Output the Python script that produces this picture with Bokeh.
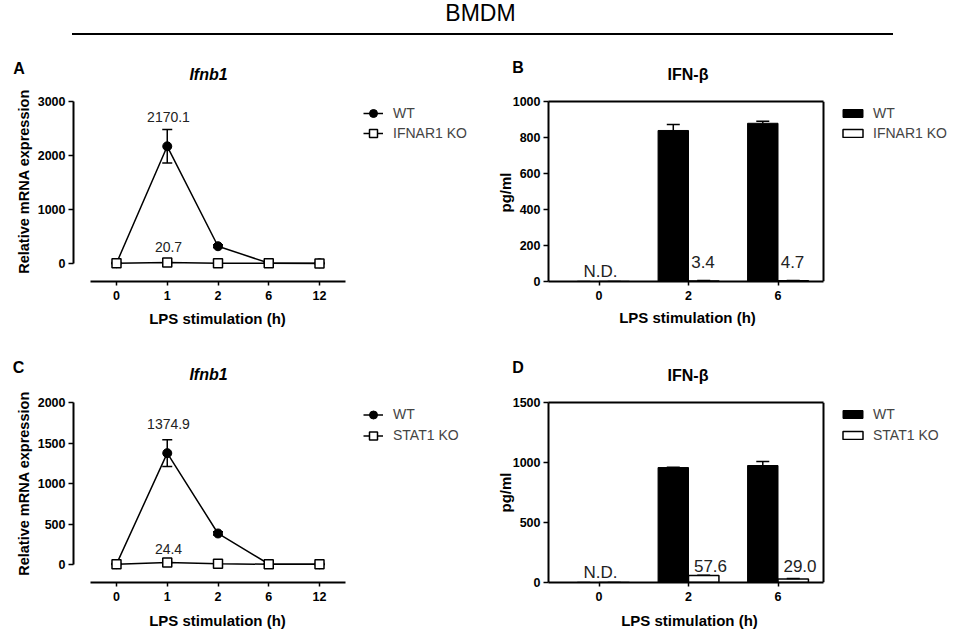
import numpy as np
from bokeh.plotting import figure
from bokeh.models import (ColumnDataSource, Whisker, TeeHead, Label, Legend,
                          LegendItem, Div, Range1d, FixedTicker, Span, LinearAxis)
from bokeh.layouts import column, row
from bokeh.embed import file_html
from bokeh.resources import INLINE

FONT = "Liberation Sans"

# ---------------- data ----------------
header_title = "BMDM"
qpcr_hours = ["0", "1", "2", "6", "12"]
elisa_hours = ["0", "2", "6"]

a_wt = [6.0, 2170.1, 320.0, 8.0, 4.0]
a_wt_err = [3.0, 310.0, 25.0, 3.0, 2.0]
a_ko = [4.0, 20.7, 6.0, 3.0, 2.0]
a_ko_err = [2.0, 6.0, 2.0, 1.0, 1.0]
a_series = ["WT", "IFNAR1 KO"]

c_wt = [5.0, 1374.9, 383.0, 6.0, 3.0]
c_wt_err = [3.0, 165.0, 20.0, 2.0, 1.0]
c_ko = [4.0, 24.4, 9.0, 3.0, 2.0]
c_ko_err = [2.0, 5.0, 2.0, 1.0, 1.0]
c_series = ["WT", "STAT1 KO"]

b_wt = [0.0, 839.0, 879.0]
b_wt_err = [0.0, 33.0, 11.0]
b_ko = [0.0, 3.4, 4.7]
b_ko_err = [0.0, 2.0, 1.5]
b_series = ["WT", "IFNAR1 KO"]

d_wt = [0.0, 958.0, 975.0]
d_wt_err = [0.0, 3.0, 33.0]
d_ko = [0.0, 57.6, 29.0]
d_ko_err = [0.0, 3.0, 4.0]
d_series = ["WT", "STAT1 KO"]

qpcr_ticks = [0, 1000, 2000, 3000]
qpcr_ticks_c = [0, 500, 1000, 1500, 2000]
elisa_ticks_b = [0, 200, 400, 600, 800, 1000]
elisa_ticks_d = [0, 500, 1000, 1500]


class Geom:
    """Panel geometry in page pixels: figure origin/size, frame box, axis mapping."""
    def __init__(self, ox, oy, w, h, L, R, T, B, x0, xp, y0, yp, axL, axR):
        self.__dict__.update(dict(ox=ox, oy=oy, w=w, h=h, L=L, R=R, T=T, B=B,
                                  x0=x0, xp=xp, y0=y0, yp=yp, axL=axL, axR=axR))

    def xr(self):
        return Range1d(self.dx(self.L), self.dx(self.R))

    def yr(self):
        return Range1d(self.dy(self.B), self.dy(self.T))

    def dx(self, sx):
        return (sx - self.x0) / self.xp

    def dy(self, sy):
        return (self.y0 - sy) / self.yp


def base_fig(g, yticks, ymax):
    p = figure(width=g.w, height=g.h, x_range=g.xr(), y_range=g.yr(),
               min_border_left=g.L - g.ox, min_border_right=g.ox + g.w - g.R,
               min_border_top=g.T - g.oy, min_border_bottom=g.oy + g.h - g.B,
               output_backend="svg", toolbar_location=None, title=None)
    p.xgrid.visible = False
    p.ygrid.visible = False
    p.background_fill_color = "white"
    p.border_fill_color = "white"
    p.outline_line_color = None
    for ax in (p.xaxis[0], p.yaxis[0]):
        ax.axis_line_width = 2
        ax.axis_line_color = "black"
        ax.major_tick_line_width = 1.5
        ax.major_tick_in = 0
        ax.minor_tick_line_color = None
        ax.major_label_text_font = FONT
        ax.major_label_text_font_style = "bold"
        ax.major_label_text_font_size = "12.5px"
        ax.major_label_text_color = "black"
    p.yaxis[0].ticker = FixedTicker(ticks=yticks)
    p.yaxis[0].bounds = (0, ymax)
    p.yaxis[0].major_tick_out = 5
    p.yaxis[0].major_label_standoff = 3
    p.xaxis[0].bounds = (g.dx(g.axL), g.dx(g.axR))
    p.xaxis[0].major_tick_out = 4
    p.xaxis[0].major_label_standoff = 5
    return p


def add_text(p, g, text, sx, sy, size, style="normal", color="black", side="above",
             angle=0.0):
    lab = Label(x=g.dx(sx), y=g.dy(sy), text=text, text_font=FONT,
                text_font_size=size, text_font_style=style, angle=angle,
                text_color=color, text_align="center", text_baseline="middle")
    if side == "center":
        p.add_layout(lab)
    else:
        p.add_layout(lab, side)


def add_legend(p, g, items, glyph_left, first_center, pitch, glyph_w, glyph_h, standoff):
    leg = Legend(items=items,
                 location=(glyph_left - g.L, g.B - (first_center - pitch / 2 + 2 * pitch)),
                 padding=0, margin=0, spacing=0, glyph_width=glyph_w, glyph_height=glyph_h,
                 label_height=pitch, label_standoff=standoff,
                 label_text_font=FONT, label_text_font_size="14px",
                 border_line_color=None, background_fill_alpha=0)
    p.add_layout(leg)


def line_panel(g, wt, wt_err, ko, ko_err, series, yticks, ymax, letter,
               letter_xy, title_xy, ytitle_xy, xtitle_xy, lab1_xy, lab2_xy,
               leg_top, leg_pitch):
    p = base_fig(g, yticks, ymax)
    x = np.arange(len(qpcr_hours))
    p.xaxis[0].ticker = FixedTicker(ticks=list(x))
    p.xaxis[0].major_label_overrides = {int(i): h for i, h in zip(x, qpcr_hours)}

    wt_src = ColumnDataSource(dict(x=x, y=wt, lo=np.array(wt) - np.array(wt_err),
                                   hi=np.array(wt) + np.array(wt_err)))
    ko_src = ColumnDataSource(dict(x=x, y=ko, lo=np.array(ko) - np.array(ko_err),
                                   hi=np.array(ko) + np.array(ko_err)))
    for src in (wt_src, ko_src):
        p.add_layout(Whisker(source=src, base="x", lower="lo", upper="hi",
                             line_width=1.5, line_color="black",
                             upper_head=TeeHead(size=10, line_width=1.5),
                             lower_head=TeeHead(size=10, line_width=1.5)))
    l1 = p.line("x", "y", source=wt_src, line_width=1.5, line_color="black")
    m1 = p.scatter("x", "y", source=wt_src, marker="circle", size=9,
                   fill_color="black", line_color="black")
    l2 = p.line("x", "y", source=ko_src, line_width=1.5, line_color="black")
    m2 = p.scatter("x", "y", source=ko_src, marker="square", size=9,
                   fill_color="white", line_color="black", line_width=1.5)

    add_legend(p, g, [LegendItem(label=series[0], renderers=[l1, m1]),
                      LegendItem(label=series[1], renderers=[l2, m2])],
               363, leg_top, leg_pitch, 20, leg_pitch, 10)

    add_text(p, g, letter, *letter_xy, "16px", "bold")
    add_text(p, g, "Ifnb1", *title_xy, "16px", "bold italic")
    add_text(p, g, "Relative mRNA expression", *ytitle_xy, "14.5px", "bold",
             side="left", angle=np.pi / 2)
    add_text(p, g, "LPS stimulation (h)", *xtitle_xy, "15px", "bold", side="below")
    add_text(p, g, f"{wt[1]:.1f}", *lab1_xy, "14px", color="#222222", side="center")
    add_text(p, g, f"{ko[1]:.1f}", *lab2_xy, "14px", color="#222222", side="center")
    return p


def bar_panel(g, wt, wt_err, ko, ko_err, series, yticks, ymax, letter, letter_xy,
              title_xy, ytitle_xy, xtitle_xy, nd_xy, lab_xy, leg_top, leg_pitch):
    p = base_fig(g, yticks, ymax)
    x = np.arange(len(elisa_hours))
    p.xaxis[0].ticker = FixedTicker(ticks=list(x))
    p.xaxis[0].major_label_overrides = {int(i): h for i, h in zip(x, elisa_hours)}
    # plot box: top edge as a bare axis line, right edge as a vertical span
    top_axis = LinearAxis(bounds=(g.dx(g.axL), g.dx(g.axR)), ticker=FixedTicker(ticks=[]),
                          axis_line_width=2, axis_line_color="black",
                          major_tick_line_color=None, minor_tick_line_color=None,
                          major_label_text_font_size="0px")
    p.add_layout(top_axis, "above")
    p.add_layout(Span(location=g.dx(g.axR), dimension="height", line_color="black",
                      line_width=2))
    off = 0.17
    wt_src = ColumnDataSource(dict(x=x - off, top=wt, hi=np.array(wt) + np.array(wt_err)))
    ko_src = ColumnDataSource(dict(x=x + off, top=ko, hi=np.array(ko) + np.array(ko_err)))
    r1 = p.vbar(x="x", top="top", width=0.34, source=wt_src, fill_color="black",
                line_color="black", line_width=1)
    r2 = p.vbar(x="x", top="top", width=0.34, source=ko_src, fill_color="white",
                line_color="black", line_width=1.5)
    for src in (wt_src, ko_src):
        p.add_layout(Whisker(source=src, base="x", lower="top", upper="hi",
                             line_width=1.5, line_color="black", level="glyph",
                             upper_head=TeeHead(size=13, line_width=1.5),
                             lower_head=None))
    add_legend(p, g, [LegendItem(label=series[0], renderers=[r1]),
                      LegendItem(label=series[1], renderers=[r2])],
               840, leg_top, leg_pitch, 25, 10, 8)

    add_text(p, g, letter, *letter_xy, "16px", "bold")
    add_text(p, g, "IFN-\u03b2", *title_xy, "16px", "bold")
    add_text(p, g, "pg/ml", *ytitle_xy, "15px", "bold", side="left", angle=np.pi / 2)
    add_text(p, g, "LPS stimulation (h)", *xtitle_xy, "15px", "bold", side="below")
    add_text(p, g, "N.D.", *nd_xy, "17px", color="#222222", side="center")
    for (sx, sy), v in zip(lab_xy, ko[1:]):
        add_text(p, g, f"{v:.1f}", sx, sy, "17px", color="#222222", side="center")
    return p


gA = Geom(0, 50, 480, 300, 73, 476, 101, 281, 116, 50.75, 263, 162 / 3000, 90, 345)
gB = Geom(480, 50, 477, 300, 548, 953, 101, 281, 598.5, 89.5, 281, 180 / 1000, 548, 823)
gC = Geom(0, 350, 480, 285, 73, 476, 402, 582, 116, 50.75, 564, 162 / 2000, 90, 345)
gD = Geom(480, 350, 477, 285, 548, 953, 402, 582, 598.5, 89.5, 582, 180 / 1500, 548, 823)

pA = line_panel(gA, a_wt, a_wt_err, a_ko, a_ko_err, a_series, qpcr_ticks, 3000, "A",
                (18.5, 68), (208, 73.5), (23.5, 181), (217, 318), (168, 116.5), (168, 246),
                113, 20)
pC = line_panel(gC, c_wt, c_wt_err, c_ko, c_ko_err, c_series, qpcr_ticks_c, 2000, "C",
                (18, 367), (208, 373.5), (23.5, 483), (217, 620), (168, 423.5), (168, 548),
                414, 21)
pB = bar_panel(gB, b_wt, b_wt_err, b_ko, b_ko_err, b_series, elisa_ticks_b, 1000, "B",
               (517.5, 67), (687.5, 74), (505, 192), (687, 317), (600, 270.5),
               [(702.5, 261.5), (792, 261.5)], 113, 20)
pD = bar_panel(gD, d_wt, d_wt_err, d_ko, d_ko_err, d_series, elisa_ticks_d, 1500, "D",
               (517.5, 367), (687.5, 374.5), (505, 492), (689, 620), (600, 572),
               [(710, 565), (799.5, 565)], 414, 21)

header = Div(text=(
    '<div style="position:relative;width:957px;height:50px;">'
    '<div style="position:absolute;left:2px;top:2px;width:957px;text-align:center;'
    'font-family:\'Liberation Sans\';font-size:23px;line-height:23px;color:black;">'
    + header_title + '</div>'
    '<div style="position:absolute;left:72px;top:33px;width:821px;height:2px;'
    'background:black;"></div></div>'),
    width=957, height=50, margin=0)

layout = column(header, row(pA, pB), row(pC, pD))

with open("out.html", "w") as f:
    f.write(file_html(layout, INLINE))
